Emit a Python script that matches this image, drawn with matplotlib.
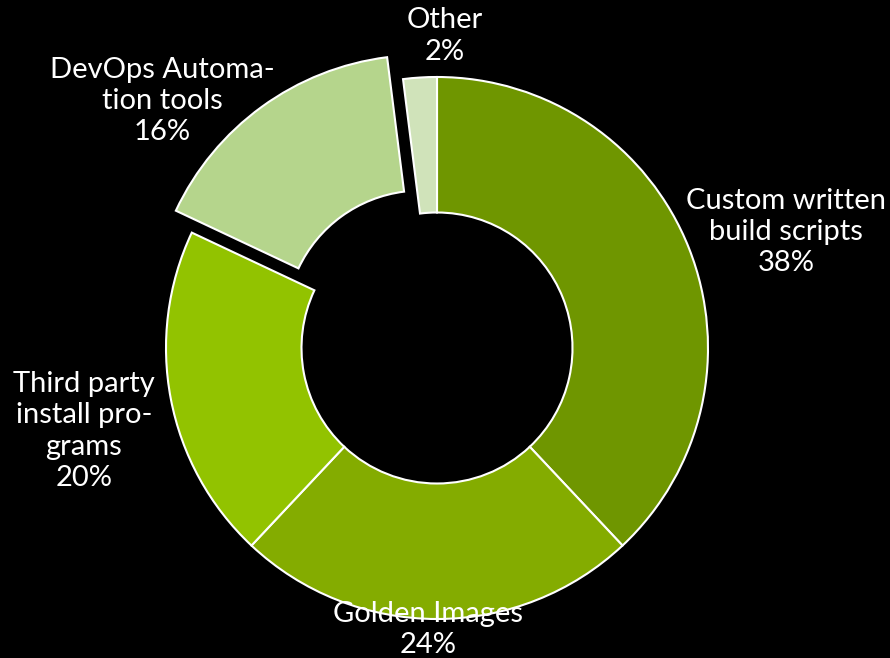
import matplotlib.pyplot as plt

# 数据
categories = ["Custom written\nbuild scripts", "Golden Images",
              "Third party\ninstall pro-\ngrams", "DevOps Automa-\ntion tools", "Other"]
shares = [38, 24, 20, 16, 2]
colors = ["#6f9600", "#84ac00", "#92c300", "#b5d58c", "#d0e3ba"]
explode = [0, 0, 0, 0.1, 0]

# 标签位置（以外半径为单位）
label_xy = [(1.288, 0.428), (-0.033, -1.04), (-1.303, -0.306), (-1.015, 0.911), (0.030, 1.151)]

plt.rcParams['font.family'] = ['Lato', 'DejaVu Sans']

fig = plt.figure(figsize=(8.9, 6.58), dpi=100, facecolor="black")
ax = fig.add_axes([0, 0, 1, 1])
ax.set_facecolor("black")

ax.pie(shares, colors=colors, explode=explode, startangle=90, counterclock=False,
       radius=1, wedgeprops=dict(width=0.5, edgecolor="white", linewidth=1.5))

for name, val, (x, y) in zip(categories, shares, label_xy):
    ax.text(x, y, f"{name}\n{val}%", color="white", fontsize=21, linespacing=1.25,
            ha="center", va="center", multialignment="center")

# 中心大约在 (437, 348) 像素，外半径约 271 像素
ax.set_aspect("auto")
ax.set_xlim(-437 / 271, (890 - 437) / 271)
ax.set_ylim(-(658 - 348) / 271, 348 / 271)
ax.axis("off")

fig.savefig("out.png", facecolor="black")
